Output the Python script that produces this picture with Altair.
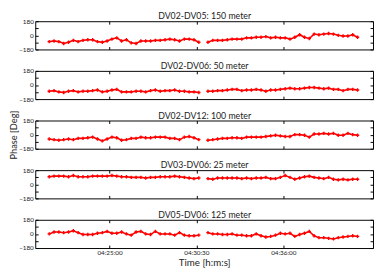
import altair as alt
import numpy as np
import pandas as pd

TITLES = ["DV02-DV05: 150 meter", "DV02-DV06: 50 meter", "DV02-DV12: 100 meter",
          "DV03-DV06: 25 meter", "DV05-DV06: 125 meter"]

SEG1_START = "2000-01-01 04:21:11"
SEG2_START = "2000-01-01 04:31:14"
STEP_S = 18.33

p1_a = [-80, -72, -80, -104, -88, -64, -80, -64, -56, -56, -80, -88, -72, -48, -32, -72,
        -56, -96, -104, -72, -72, -72, -64, -64, -56, -48, -56, -72, -48, -48, -56, -88]
p1_b = [-88, -64, -64, -64, -56, -48, -48, -48, -32, -32, -24, -24, -16, -32, -24, -32,
        -32, -48, -24, 8, -24, -40, 16, 8, 16, 24, 16, 0, -8, -8, 8, -24]
p2_a = [-80, -72, -88, -96, -80, -72, -88, -80, -80, -72, -64, -88, -80, -64, -56, -88,
        -88, -88, -80, -80, -88, -72, -64, -80, -72, -72, -64, -80, -80, -88, -88, -96]
p2_b = [-80, -80, -72, -72, -64, -56, -56, -72, -64, -64, -56, -64, -80, -64, -64, -56,
        -48, -40, -48, -48, -40, -32, -32, -40, -48, -40, -56, -56, -72, -56, -56, -64]
p3_a = [-56, -64, -72, -64, -56, -64, -48, -48, -40, -32, -56, -80, -56, -32, -40, -72,
        -64, -48, -48, -32, -40, -40, -32, -32, -32, -48, -48, -64, -32, -24, -40, -64]
p3_b = [-72, -64, -56, -48, -48, -40, -40, -48, -32, -32, -32, -32, -24, -16, -8, -16,
        -24, -24, 0, 0, -8, -32, 8, 8, 16, 8, 16, -8, -8, 16, 0, -8]
p4_a = [96, 104, 104, 104, 96, 112, 96, 96, 96, 104, 104, 104, 104, 112, 104, 96,
        96, 88, 88, 88, 80, 88, 88, 96, 96, 96, 104, 96, 88, 80, 72, 80]
p4_b = [72, 64, 80, 80, 80, 80, 80, 72, 80, 72, 80, 80, 88, 72, 72, 88,
        112, 88, 64, 80, 96, 104, 88, 80, 72, 88, 64, 56, 64, 56, 64, 64]
p5_a = [0, 24, 24, 16, 24, 40, 16, -8, -8, -8, 8, 16, 32, 8, 8, 24,
        0, -16, 24, 32, 0, -8, 32, 0, 0, 0, -16, 16, -16, -24, -24, -16]
p5_b = [16, 0, 0, -8, -8, 0, -16, -16, -24, -24, 0, -24, -40, -32, -16, 8,
        0, 8, -32, -8, 8, 32, -24, -48, -48, -56, -64, -48, -40, -32, -24, -32]

SERIES = [(p1_a, p1_b), (p2_a, p2_b), (p3_a, p3_b), (p4_a, p4_b), (p5_a, p5_b)]

Y_TICKS = [-180, -90, 0, 90, 180]
X_TICKS = [(4, 25, 0), (4, 30, 30), (4, 36, 0)]
X_DOMAIN = [(4, 20, 18), (4, 41, 41)]

FONT = "Lato"
W, H = 347, 29


def dt(h, m, s):
    return alt.DateTime(year=2000, month=1, date=1, hours=h, minutes=m, seconds=s)


def make_df(a, b):
    t1 = pd.Timestamp(SEG1_START) + pd.to_timedelta(np.arange(len(a)) * STEP_S, unit="s")
    t2 = pd.Timestamp(SEG2_START) + pd.to_timedelta(np.arange(len(b)) * STEP_S, unit="s")
    d1 = pd.DataFrame({"t": t1, "phase": a, "seg": "a"})
    d2 = pd.DataFrame({"t": t2, "phase": b, "seg": "b"})
    return pd.concat([d1, d2], ignore_index=True)


xscale = alt.Scale(domain=[dt(*X_DOMAIN[0]), dt(*X_DOMAIN[1])])
yscale = alt.Scale(domain=[-180, 180], nice=False)
xvals = [dt(*v) for v in X_TICKS]

panels = []
for i, (a, b) in enumerate(SERIES):
    df = make_df(a, b)
    last = i == len(SERIES) - 1
    mid = i == 2
    bottom_axis = alt.Axis(values=xvals, format="%H:%M:%S", labels=last, orient="bottom",
                           title="Time [h:m:s]" if last else None,
                           offset=-3, tickSize=3, domain=False, grid=False,
                           labelPadding=2, titlePadding=1, labelFontSize=6.5,
                           titleFontSize=10, tickColor="black", labelColor="#222",
                           titleColor="#222", titleFontWeight="normal")
    left_axis = alt.Axis(values=Y_TICKS, orient="left",
                         labelExpr="datum.value == 90 || datum.value == -90 ? '' : datum.label",
                         title="Phase [Deg]" if mid else None,
                         offset=-3, tickSize=3, domain=False, grid=False,
                         labelPadding=2, titlePadding=0, labelFontSize=6.5,
                         titleFontSize=9.5, tickColor="black", labelColor="#222",
                         titleColor="#222", titleFontWeight="normal")
    top_axis = alt.Axis(values=xvals, orient="top", labels=False, title=TITLES[i],
                        offset=-3, tickSize=3, domain=False, grid=False, tickColor="black",
                        titlePadding=0, titleFontSize=9, titleFontWeight="normal",
                        titleColor="#222")
    right_axis = alt.Axis(values=Y_TICKS, orient="right", labels=False, title=None,
                          offset=-3, tickSize=3, domain=False, grid=False, tickColor="black")

    line = alt.Chart(df).mark_line(color="#ff0000", strokeWidth=1.6).encode(
        x=alt.X("t:T", scale=xscale, axis=bottom_axis),
        y=alt.Y("phase:Q", scale=yscale, axis=left_axis),
        detail="seg:N",
    )
    pts = alt.Chart(df).mark_point(shape="cross", size=12, filled=True,
                                   color="#ff0000", opacity=1).encode(
        x=alt.X("t:T", scale=xscale, axis=top_axis),
        y=alt.Y("phase:Q", scale=yscale, axis=right_axis),
    )
    panel = alt.layer(line, pts).resolve_scale(x="shared", y="shared").resolve_axis(
        x="independent", y="independent"
    ).properties(width=W, height=H)
    panels.append(panel)

chart = alt.vconcat(*panels, spacing=22, bounds="flush").properties(padding=0).configure_view(
    stroke="black", strokeWidth=1
).configure_axis(labelFont=FONT, titleFont=FONT)

chart.save("out.html", embed_options={"renderer": "svg", "actions": False})
